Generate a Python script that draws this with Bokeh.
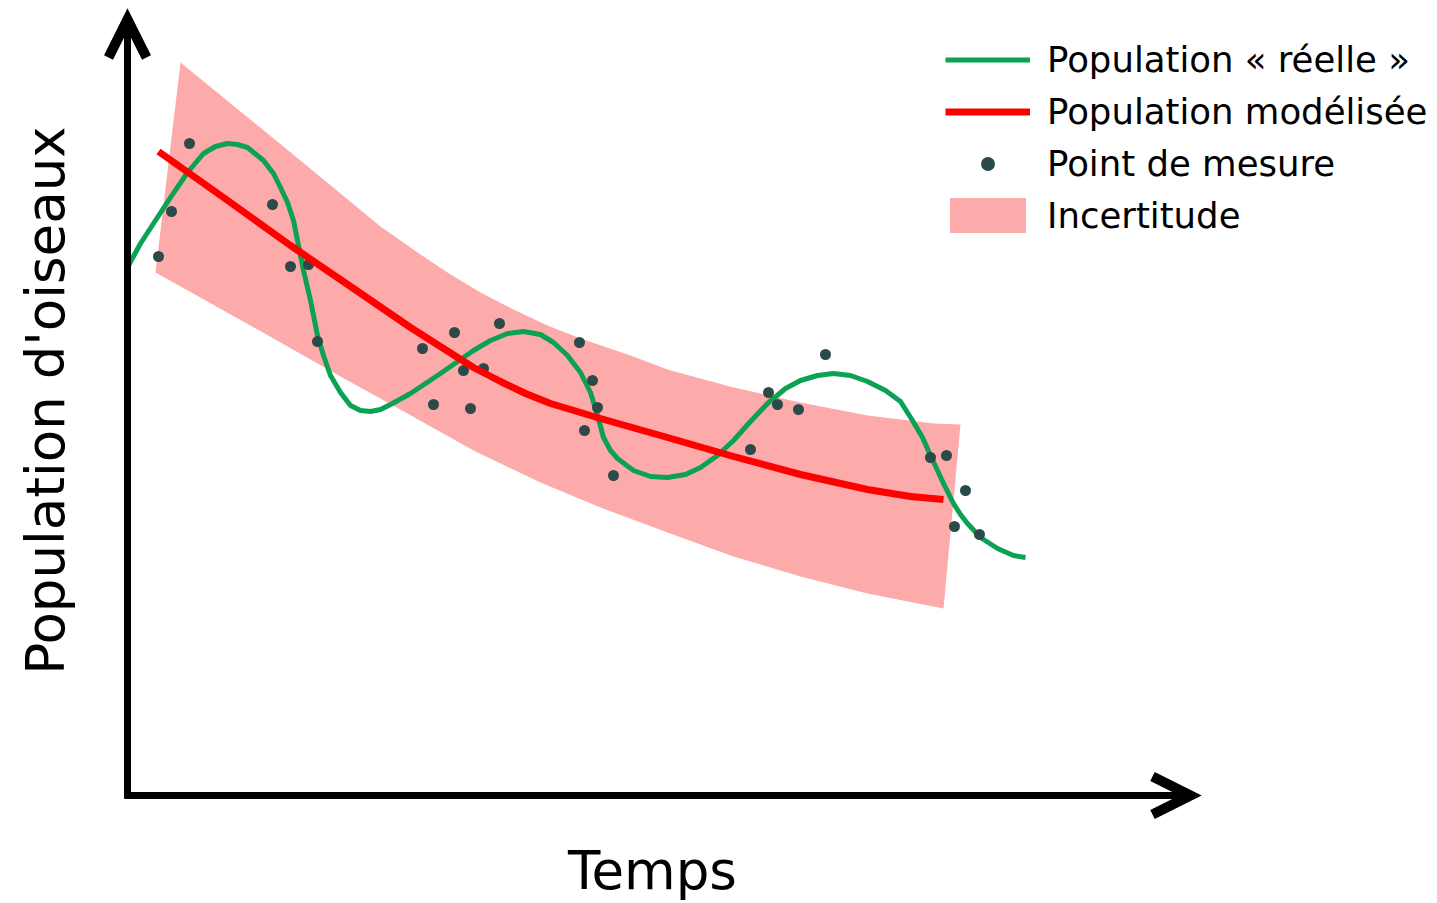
import math
from bokeh.plotting import figure
from bokeh.models import Range1d, Arrow, OpenHead, Label, Legend, LegendItem
from bokeh.embed import file_html
from bokeh.resources import INLINE

# ---- data (time units, population units) ----
point_t = [3.1, 4.4, 6.2, 14.5, 16.3, 18.1, 19.0, 29.5, 30.6, 32.7, 33.6, 34.3, 35.6, 37.2,
           45.2, 45.7, 46.5, 47.0, 48.6, 62.3, 64.1, 65.0, 67.1, 69.8, 80.3, 81.9, 82.7, 83.8, 85.2]
point_pop = [53.9, 58.4, 65.2, 59.1, 52.9, 53.1, 45.4, 44.7, 39.1, 46.3, 42.5, 38.7, 42.7, 47.2,
             45.3, 36.5, 41.5, 38.8, 32.0, 34.6, 40.3, 39.1, 38.6, 44.1, 33.8, 34.0, 26.9, 30.5, 26.1]

real_t = [0.1, 1.3, 2.6, 4.3, 6.0, 7.6, 8.8, 10.0, 11.0, 12.0, 13.6, 14.6, 15.3, 16.0, 16.6, 17.1,
          17.6, 18.3, 19.0, 19.6, 20.3, 21.3, 22.3, 23.3, 24.3, 25.3, 26.3, 28.3, 31.3, 34.6, 36.3,
          38.0, 39.6, 41.3, 42.6, 44.0, 45.3, 46.3, 47.0, 47.6, 48.3, 49.0, 50.6, 52.3, 54.0, 55.8,
          57.3, 59.0, 60.6, 62.3, 64.0, 65.8, 67.3, 69.0, 70.6, 72.3, 74.0, 75.8, 77.3, 78.5, 79.5,
          80.3, 81.0, 81.6, 82.6, 83.3, 84.0, 85.3, 87.0, 88.6, 89.8]
real_pop = [53.0, 55.2, 57.2, 59.8, 62.3, 64.2, 64.9, 65.2, 65.1, 64.8, 63.5, 62.2, 60.8, 59.3, 57.5, 55.0,
            52.5, 49.5, 46.0, 44.0, 42.0, 40.3, 39.0, 38.5, 38.4, 38.6, 39.1, 40.2, 42.2, 44.5, 45.5,
            46.2, 46.4, 46.1, 45.3, 44.0, 42.3, 40.3, 38.0, 35.8, 34.5, 33.7, 32.5, 31.9, 31.8, 32.1,
            32.8, 34.0, 35.5, 37.4, 39.2, 40.7, 41.5, 42.0, 42.2, 42.0, 41.4, 40.5, 39.4, 37.5, 35.8,
            34.0, 32.5, 31.2, 29.2, 28.1, 27.2, 25.8, 24.7, 24.0, 23.8]

model_t = [3.1, 9.6, 16.3, 22.6, 28.3, 31.6, 34.6, 37.3, 39.8, 42.3, 47.3, 54.0, 60.6, 67.3,
           74.0, 78.3, 81.6]
model_pop = [64.4, 59.8, 55.0, 50.7, 46.8, 44.7, 42.8, 41.4, 40.2, 39.2, 37.7, 35.8, 33.9, 32.1,
             30.6, 29.9, 29.6]

band_upper_t = [5.3, 17.3, 25.3, 29.3, 32.3, 35.3, 38.6, 42.0, 45.3, 50.3, 54.0, 60.6, 67.3, 74.0, 80.6, 83.3]
band_upper_pop = [73.3, 63.5, 56.9, 54.1, 52.1, 50.3, 48.6, 47.0, 45.7, 44.0, 42.6, 40.8, 39.3, 38.0, 37.2, 37.1]
band_lower_t = [81.6, 74.0, 67.3, 60.6, 54.0, 47.3, 41.3, 34.6, 28.0, 21.3, 14.6, 8.0, 2.8]
band_lower_pop = [18.7, 20.2, 21.9, 23.9, 26.3, 28.8, 31.3, 34.5, 38.2, 41.9, 45.7, 49.4, 52.3]

labels = ["Population « réelle »", "Population modélisée", "Point de mesure", "Incertitude"]
x_title = "Temps"
y_title = "Population d'oiseaux"

FONT = "DejaVu Sans"
BAND = "#fdaaaa"

p = figure(width=1437, height=903, x_range=Range1d(-12.7, 131.0), y_range=Range1d(-10.8, 79.5),
           output_backend="svg", toolbar_location=None, min_border=0,
           x_axis_type=None, y_axis_type=None)
p.outline_line_color = None
p.background_fill_color = "white"
p.border_fill_color = "white"

band = p.patch(band_upper_t + band_lower_t, band_upper_pop + band_lower_pop,
               fill_color=BAND, line_color=None)
# legend-only swatch (draws nothing in the plot), outlined so it fills the legend slot
band_key = p.patch([float("nan")], [float("nan")], fill_color=BAND, line_color=BAND,
                   line_width=8, line_join="miter")
green = p.line(real_t, real_pop, line_color="#0ba253", line_width=5, line_join="round")
pts = p.scatter(point_t, point_pop, size=11, fill_color="#2c4a4a", line_color=None)
red = p.line(model_t, model_pop, line_color="#ff0000", line_width=7, line_join="round")

# axes as arrows
for xs, ys, xe, ye in [(0, -0.3, 0, 77.6), (-0.3, 0, 106.3, 0)]:
    p.add_layout(Arrow(x_start=xs, y_start=ys, x_end=xe, y_end=ye, line_width=7, line_color="black",
                       end=OpenHead(size=38, line_width=10, line_color="black", line_join="miter")))

p.add_layout(Label(x=52.5, y=-7.5, text=x_title, text_font=FONT, text_font_size="53px",
                   text_align="center", text_baseline="middle", text_color="black"))
p.add_layout(Label(x=-8.2, y=39.5, text=y_title, text_font=FONT, text_font_size="53px",
                   text_align="center", text_baseline="middle", angle=math.pi / 2, text_color="black"))

legend = Legend(items=[LegendItem(label=labels[0], renderers=[green]),
                       LegendItem(label=labels[1], renderers=[red]),
                       LegendItem(label=labels[2], renderers=[pts]),
                       LegendItem(label=labels[3], renderers=[band_key])],
                location=(945, 667), label_text_font=FONT, label_text_font_size="35.5px",
                label_text_color="black",
                glyph_width=85, glyph_height=35, label_standoff=17, spacing=11,
                padding=0, margin=0, border_line_alpha=0, background_fill_alpha=0)
p.add_layout(legend, "center")

open("out.html", "w").write(file_html(p, INLINE))
